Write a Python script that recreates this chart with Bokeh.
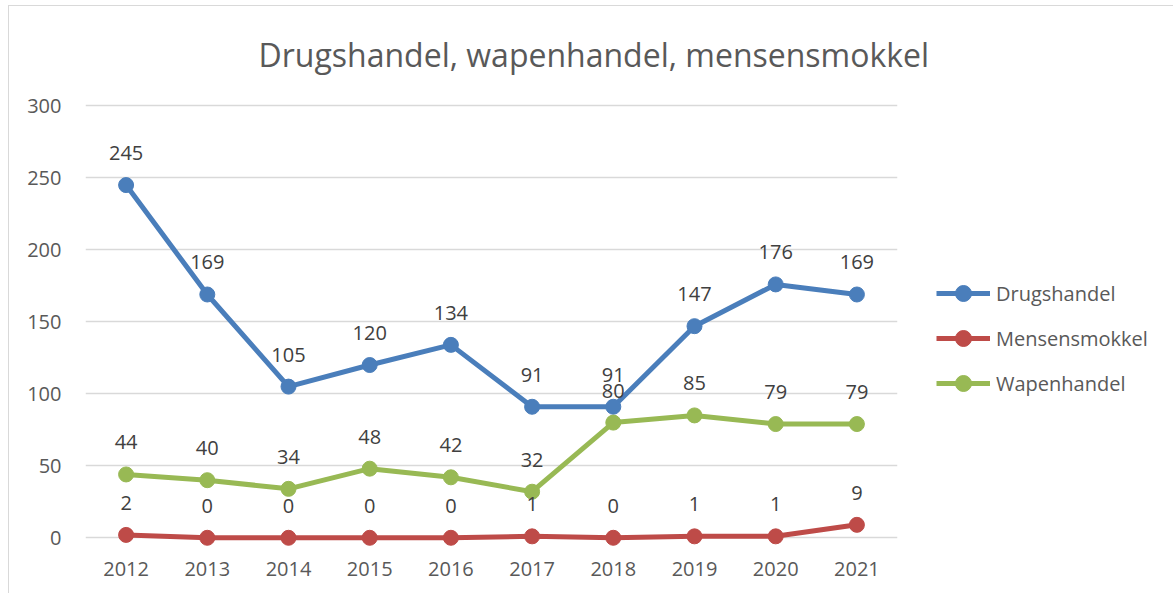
from bokeh.plotting import figure
from bokeh.models import FactorRange, Range1d, FixedTicker, Legend, LegendItem, ColumnDataSource
from bokeh.core.properties import value
from bokeh.embed import file_html
from bokeh.resources import INLINE

years = ["2012", "2013", "2014", "2015", "2016", "2017", "2018", "2019", "2020", "2021"]
drugshandel = [245, 169, 105, 120, 134, 91, 91, 147, 176, 169]
mensensmokkel = [2, 0, 0, 0, 0, 1, 0, 1, 1, 9]
wapenhandel = [44, 40, 34, 48, 42, 32, 80, 85, 79, 79]
y_ticks = [0, 50, 100, 150, 200, 250, 300]

series = [
    ("Drugshandel", drugshandel, "#4A7EBB"),
    ("Mensensmokkel", mensensmokkel, "#BE4B48"),
    ("Wapenhandel", wapenhandel, "#98B954"),
]

FONT = "Open Sans"

p = figure(
    x_range=FactorRange(factors=years, range_padding=0),
    y_range=Range1d(-13, 310),
    frame_width=812, frame_height=465,
    min_border_left=76, min_border_right=266,
    min_border_top=85, min_border_bottom=37,
    output_backend="svg", toolbar_location=None,
    title="Drugshandel, wapenhandel, mensensmokkel",
)
p.styles = {"margin-left": "8px", "margin-top": "5px",
            "border-left": "1px solid #D9D9D9", "border-top": "1px solid #D9D9D9"}
p.outline_line_color = None
p.background_fill_color = "white"
p.border_fill_color = "white"

p.title.align = "left"
p.title.offset = 173
p.title.standoff = 32
p.title.text_font = FONT
p.title.text_font_size = "32px"
p.title.text_font_style = "normal"
p.title.text_color = "#595959"

p.xgrid.grid_line_color = None
p.ygrid.grid_line_color = "#D9D9D9"
p.ygrid.grid_line_width = 1.3

p.yaxis.ticker = FixedTicker(ticks=y_ticks)
for ax in (p.xaxis[0], p.yaxis[0]):
    ax.axis_line_color = None
    ax.major_tick_line_color = None
    ax.minor_tick_line_color = None
    ax.major_tick_out = 0
    ax.major_tick_in = 0
    ax.major_label_text_font = FONT
    ax.major_label_text_font_size = "20px"
    ax.major_label_text_color = "#595959"
p.yaxis.major_label_standoff = 24
p.xaxis.major_label_standoff = 5

items = []
for name, vals, color in series:
    src = ColumnDataSource(dict(x=years, y=vals))
    l = p.line("x", "y", source=src, line_color=color, line_width=5)
    s = p.scatter("x", "y", source=src, size=15, fill_color=color, line_color=color)
    items.append(LegendItem(label=name, renderers=[l, s]))

for name, vals, color in series:
    src = ColumnDataSource(dict(x=years, y=vals, t=[str(v) for v in vals]))
    p.text("x", "y", text="t", source=src, text_align="center", text_baseline="middle",
           y_offset=-32, text_font=value(FONT), text_font_size="20px", text_color="#404040")

legend = Legend(items=items, location=(39, 153), orientation="vertical",
                glyph_width=54, glyph_height=40, label_height=40, spacing=5,
                padding=0, margin=0, label_standoff=6,
                label_text_font=FONT, label_text_font_size="20px", label_text_color="#595959",
                border_line_color=None, background_fill_alpha=0)
p.add_layout(legend, "right")

open("out.html", "w").write(file_html(p, INLINE))
